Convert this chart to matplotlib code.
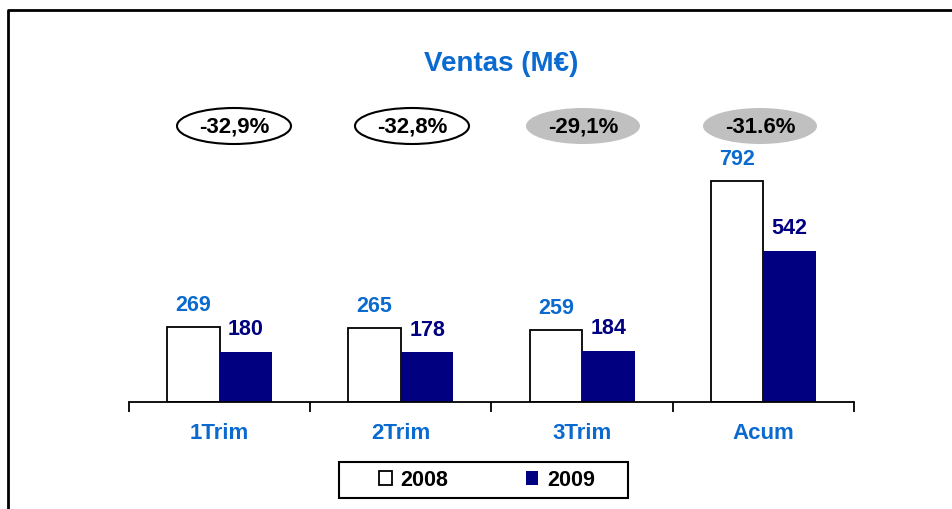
import matplotlib
matplotlib.use("Agg")
import matplotlib.pyplot as plt
from matplotlib.patches import Ellipse, Rectangle
from matplotlib.lines import Line2D
import numpy as np

plt.rcParams['font.family'] = ['Liberation Sans', 'DejaVu Sans']

categories = ["1Trim", "2Trim", "3Trim", "Acum"]
series_names = ["2008", "2009"]
v2008 = [269, 265, 259, 792]
v2009 = [180, 178, 184, 542]
changes = ["-32,9%", "-32,8%", "-29,1%", "-31.6%"]
change_highlight = [False, False, True, True]

W, H = 953, 509
fig = plt.figure(figsize=(W / 100, H / 100), dpi=100)

BLUE = "#0A6ACF"
NAVY = "#000080"

# axes geometry (pixels)
ax_left, ax_right = 129, 854
ax_base, ax_top = 402, 142
px_per_unit = 221 / 792
ymax = (ax_base - ax_top) / px_per_unit

ax = fig.add_axes([ax_left / W, (H - ax_base) / H, (ax_right - ax_left) / W, (ax_base - ax_top) / H])
ax.set_xlim(0, len(categories))
ax.set_ylim(0, ymax)
ax.patch.set_alpha(0)

x = np.arange(len(categories)) + 0.5
bw = 0.29
ax.bar(x - bw / 2, v2008, width=bw, color="white", edgecolor="black", linewidth=1.3, label=series_names[0])
ax.bar(x + bw / 2, v2009, width=bw, color=NAVY, edgecolor=NAVY, linewidth=0, label=series_names[1])

for xi, a, b in zip(x, v2008, v2009):
    ax.annotate(str(a), (xi - bw / 2, a), xytext=(0, 11.5), textcoords="offset points",
                ha="center", va="baseline", fontsize=15.5, fontweight="bold", color=BLUE)
    ax.annotate(str(b), (xi + bw / 2, b), xytext=(0, 12), textcoords="offset points",
                ha="center", va="baseline", fontsize=15.5, fontweight="bold", color=NAVY)

for s in ["top", "right", "left"]:
    ax.spines[s].set_visible(False)
ax.spines["bottom"].set_linewidth(1.3)
ax.set_yticks([])
ax.set_xticks(np.arange(len(categories) + 1))
ax.set_xticklabels([])
ax.tick_params(axis="x", length=7, width=1.3, direction="out")
ax.set_xticks(x, minor=True)
ax.set_xticklabels(categories, minor=True, fontsize=16, fontweight="bold", color=BLUE)
ax.tick_params(axis="x", which="minor", length=0, pad=15)

# title
fig.text(501 / W, 1 - 71 / H, "Ventas (M€)", ha="center", va="baseline",
         fontsize=20, fontweight="bold", color=BLUE)

# change ellipses
ell_x = [234, 412, 583, 760]
ell_y = 126
for ex, txt, hl in zip(ell_x, changes, change_highlight):
    e = Ellipse((ex / W, 1 - ell_y / H), 114 / W, 36 / H, transform=fig.transFigure,
                facecolor="#C0C0C0" if hl else "white",
                edgecolor="none" if hl else "black", linewidth=1.5)
    fig.add_artist(e)
    fig.text(ex / W, 1 - 133 / H, txt, ha="center", va="baseline",
             fontsize=16, fontweight="bold", color="black")

# legend
leg = ax.legend(loc="center", bbox_to_anchor=(487 / W, 1 - 480 / H),
                bbox_transform=fig.transFigure, ncol=2, frameon=False,
                prop={"size": 15.5, "weight": "bold"}, handlelength=0.58, handleheight=0.58,
                handletextpad=0.4, columnspacing=3.6, borderpad=0, borderaxespad=0)
fig.add_artist(Rectangle((339 / W, 1 - 498 / H), (628 - 339) / W, 36 / H,
                         transform=fig.transFigure, facecolor="none",
                         edgecolor="black", linewidth=1.5))

# outer border (left and top)
fig.add_artist(Line2D([8 / W, 8 / W, 1.0], [0, 1 - 10 / H, 1 - 10 / H],
                      transform=fig.transFigure, color="black", linewidth=2))

fig.savefig("out.png", dpi=100)
